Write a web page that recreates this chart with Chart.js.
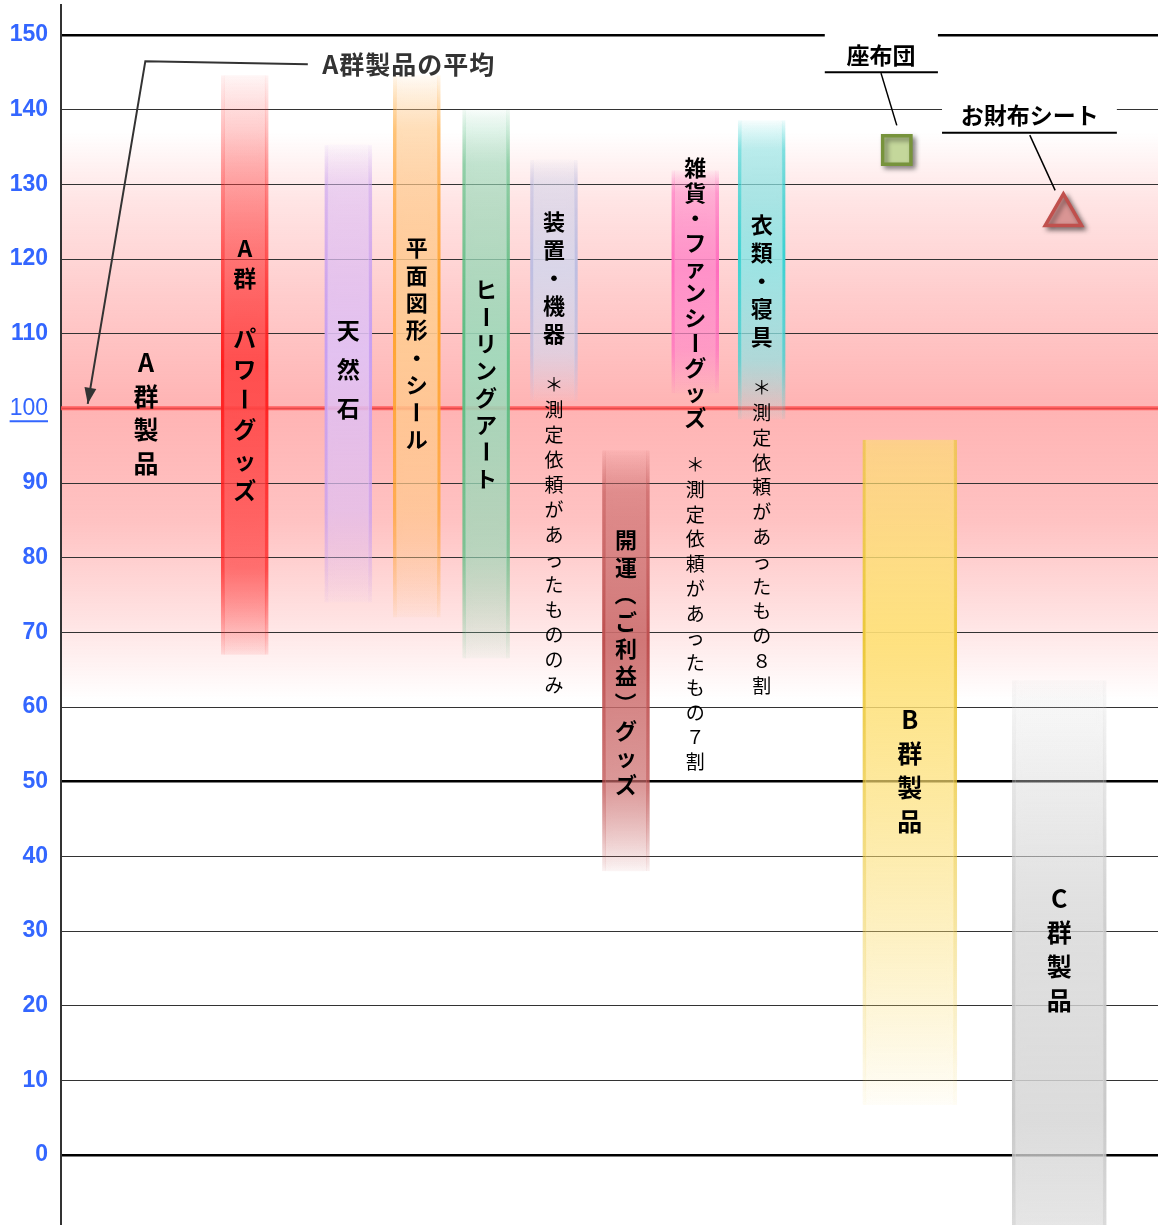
<!DOCTYPE html>
<html>
<head>
<meta charset="utf-8">
<script src="https://cdn.jsdelivr.net/npm/chart.js@4.4.1/dist/chart.umd.min.js"></script>
<style>
  html, body { margin: 0; padding: 0; background: #fff; }
  #wrap { width: 1158px; height: 1225px; }
</style>
</head>
<body>
<div id="wrap"><canvas id="chart" width="1158" height="1225"></canvas></div>
<script>
// y axis ticks
const yTicks = [0, 10, 20, 30, 40, 50, 60, 70, 80, 90, 100, 110, 120, 130, 140, 150];

// range bars (category slot on hidden x axis, low / high values)
const barNames = ['A群 パワーグッズ', '天然石', '平面図形・シール', 'ヒーリングアート', '装置・機器',
                  '開運（ご利益）グッズ', '雑貨・ファンシーグッズ', '衣類・寝具', 'B群製品', 'C群製品'];
const barSlot = [2.68, 4.19, 5.19, 6.2, 7.19, 8.24, 9.25, 10.22, 12.38, 14.56];
const barLow  = [67, 74, 72, 66.5, 101, 38, 102, 98.5, 6.7, -10];
const barHigh = [144.6, 135.3, 144.6, 140, 133.3, 94.4, 131.9, 138.6, 95.8, 63.6];

// single products
const markerNames = ['座布団', 'お財布シート'];
const markerSlot = [12.19, 14.62];
const markerValue = [134.6, 125.9];

// A group average and the shaded band around it
const avgValue = 100;
const bandRange = [61, 137];

// styles
const barFillRgb = ['255,70,70', '225,195,245', '255,205,150', '160,220,190', '215,215,235',
                    '205,110,110', '255,140,200', '150,230,230', '255,225,120', '215,215,215'];
const barEdgeRgb = ['255,30,30', '200,160,240', '255,165,50', '90,190,130', '190,190,225',
                    '190,80,80', '255,110,190', '60,210,210', '235,200,60', '200,200,200'];
const barWidth = [47, 47, 47, 47, 47, 47, 47, 47, 94, 94];
const genericStops = [[0, 0.06], [0.1, 0.5], [0.45, 0.88], [0.8, 0.6], [1, 0.06]];
const barStops = [
  [[0, 0.04], [0.15, 0.3], [0.5, 0.88], [0.85, 0.6], [1, 0.08]],
  genericStops, genericStops, genericStops, genericStops, genericStops, genericStops, genericStops,
  [[0, 0.55], [0.3, 0.88], [0.6, 0.5], [1, 0.04]],
  [[0, 0.08], [0.45, 0.7], [0.8, 0.8], [1, 0.5]]
];

const JP = '"Noto Sans CJK JP", "Noto Sans", sans-serif';

// vertical text labels: slot, first character value, step in px
const vLabels = [
  { text: 'A群製品', slot: 1.24, start: 106.1, step: 33.5, size: 25, bold: true },
  { text: 'A群 パワーグッズ', slot: 2.68, start: 121.5, step: 30.3, size: 23, bold: true },
  { text: '天然石', slot: 4.19, start: 110.5, step: 39, size: 23, bold: true },
  { text: '平面図形・シール', slot: 5.19, start: 121.5, step: 27.4, size: 22, bold: true },
  { text: 'ヒーリングアート', slot: 6.2, start: 115.85, step: 26.9, size: 22, bold: true },
  { text: '装置・機器', slot: 7.19, start: 124.96, step: 28, size: 22, bold: true },
  { text: '＊測定依頼があったもののみ', slot: 7.19, start: 103.13, step: 25, size: 19, bold: false },
  { text: '開運（ご利益）グッズ', slot: 8.24, start: 82.37, step: 27.2, size: 22, bold: true },
  { text: '雑貨・ファンシーグッズ', slot: 9.25, start: 132.19, step: 25, size: 22, bold: true },
  { text: '＊測定依頼があったもの７割', slot: 9.25, start: 92.41, step: 24.75, size: 19, bold: false },
  { text: '衣類・寝具', slot: 10.22, start: 124.55, step: 28, size: 22, bold: true },
  { text: '＊測定依頼があったもの８割', slot: 10.22, start: 102.72, step: 24.8, size: 19, bold: false },
  { text: 'B群製品', slot: 12.38, start: 58.26, step: 34, size: 25, bold: true },
  { text: 'C群製品', slot: 14.56, start: 34.42, step: 34, size: 25, bold: true }
];

function vGrad(chart, lo, hi, rgb, stops, boost) {
  const ys = chart.scales.y;
  if (!ys || !chart.chartArea) return 'rgba(' + rgb + ',0.5)';
  const top = ys.getPixelForValue(hi), bot = ys.getPixelForValue(lo);
  const g = chart.ctx.createLinearGradient(0, top, 0, bot);
  stops.forEach(([p, a]) => g.addColorStop(p, 'rgba(' + rgb + ',' + Math.min(1, a * boost) + ')'));
  return g;
}

function drawVertical(ctx, text, cx, y0, step, font) {
  ctx.font = font;
  ctx.textAlign = 'center';
  ctx.textBaseline = 'middle';
  [...text].forEach((ch, i) => {
    const y = y0 + i * step;
    if (ch === ' ' || ch === '　') return;
    if ('ー（）'.includes(ch)) {
      ctx.save();
      ctx.translate(cx, y);
      ctx.rotate(Math.PI / 2);
      ctx.fillText(ch, 0, 0);
      ctx.restore();
    } else {
      ctx.fillText(ch, cx, y);
    }
  });
}

const barDatasets = barNames.map((name, k) => ({
  type: 'bar',
  label: name,
  data: [{ x: barSlot[k], y: [barLow[k], barHigh[k]] }],
  barThickness: barWidth[k],
  grouped: false,
  backgroundColor: c => vGrad(c.chart, barLow[k], barHigh[k], barFillRgb[k], barStops[k], 1),
  borderColor: c => vGrad(c.chart, barLow[k], barHigh[k], barEdgeRgb[k], barStops[k], 1.2),
  borderWidth: { left: 3, right: 3, top: 0, bottom: 0 },
  borderSkipped: false,
  order: 2
}));

const markerDatasets = [
  {
    type: 'line', label: markerNames[0], showLine: false,
    data: [{ x: markerSlot[0], y: markerValue[0] }],
    pointStyle: 'rect', pointRadius: 20, pointBackgroundColor: '#c4d79b',
    pointBorderColor: '#77933c', pointBorderWidth: 3.5, order: 1
  },
  {
    type: 'line', label: markerNames[1], showLine: false,
    data: [{ x: markerSlot[1], y: markerValue[1] }],
    pointStyle: 'triangle', pointRadius: 21, pointBackgroundColor: '#d99594',
    pointBorderColor: '#c0504d', pointBorderWidth: 3.5, order: 1
  }
];

const decorPlugin = {
  id: 'decor',
  beforeDraw(chart) {
    const { ctx, chartArea: a, scales: { y } } = chart;
    const top = y.getPixelForValue(bandRange[1]), bot = y.getPixelForValue(bandRange[0]);
    const g = ctx.createLinearGradient(0, top, 0, bot);
    const f = v => (y.getPixelForValue(v) - top) / (bot - top);
    g.addColorStop(0, 'rgba(255,110,110,0)');
    g.addColorStop(f(128), 'rgba(255,110,110,0.18)');
    g.addColorStop(f(115), 'rgba(255,110,110,0.35)');
    g.addColorStop(f(avgValue), 'rgba(255,110,110,0.52)');
    g.addColorStop(f(85), 'rgba(255,110,110,0.42)');
    g.addColorStop(f(72), 'rgba(255,110,110,0.2)');
    g.addColorStop(1, 'rgba(255,110,110,0)');
    ctx.save();
    ctx.fillStyle = g;
    ctx.fillRect(a.left, top, a.right - a.left, bot - top);
    ctx.restore();
  },
  beforeDatasetsDraw(chart) {
    const { ctx, chartArea: a, scales: { y } } = chart;
    const py = y.getPixelForValue(avgValue);
    ctx.save();
    ctx.strokeStyle = 'rgba(255,80,80,0.85)';
    ctx.lineWidth = 4;
    ctx.beginPath();
    ctx.moveTo(a.left, py);
    ctx.lineTo(a.right, py);
    ctx.stroke();
    ctx.restore();
  },
  beforeDatasetDraw(chart, args) {
    const ds = chart.data.datasets[args.index];
    const ctx = chart.ctx;
    ctx.save();
    if (ds.type === 'line') {
      ctx.shadowColor = 'rgba(0,0,0,0.45)';
      ctx.shadowBlur = 5;
      ctx.shadowOffsetX = 3;
      ctx.shadowOffsetY = 3;
    } else {
      ctx.shadowColor = 'rgba(' + barEdgeRgb[args.index - markerDatasets.length] + ',0.35)';
      ctx.shadowBlur = 7;
    }
  },
  afterDatasetDraw(chart) {
    chart.ctx.restore();
  },
  afterDatasetsDraw(chart) {
    const { ctx, scales: { x, y } } = chart;
    const px = v => x.getPixelForValue(v), py = v => y.getPixelForValue(v);

    ctx.save();
    ctx.fillStyle = '#000';
    vLabels.forEach(l => {
      drawVertical(ctx, l.text, px(l.slot), py(l.start), l.step,
        (l.bold ? 'bold ' : '') + l.size + 'px ' + JP);
    });

    // average call-out with arrow
    ctx.strokeStyle = '#333';
    ctx.lineWidth = 2;
    const p0 = [px(3.6), py(146.1)], p1 = [px(1.23), py(146.5)], p2 = [px(0.39), py(100.6)];
    ctx.beginPath();
    ctx.moveTo(p0[0], p0[1]);
    ctx.lineTo(p1[0], p1[1]);
    ctx.lineTo(p2[0], p2[1]);
    ctx.stroke();
    const ang = Math.atan2(p2[1] - p1[1], p2[0] - p1[0]);
    ctx.fillStyle = '#333';
    ctx.beginPath();
    ctx.moveTo(p2[0], p2[1]);
    ctx.lineTo(p2[0] - 16 * Math.cos(ang) + 6 * Math.sin(ang), p2[1] - 16 * Math.sin(ang) - 6 * Math.cos(ang));
    ctx.lineTo(p2[0] - 16 * Math.cos(ang) - 6 * Math.sin(ang), p2[1] - 16 * Math.sin(ang) + 6 * Math.cos(ang));
    ctx.closePath();
    ctx.fill();
    ctx.font = 'bold 25px ' + JP;
    ctx.letterSpacing = '1px';
    ctx.textAlign = 'left';
    ctx.textBaseline = 'middle';
    ctx.fillText('A群製品の平均', px(3.81), py(146.0));
    ctx.letterSpacing = '0px';

    // boxed call-outs for the single products
    const callouts = [
      { name: markerNames[0], cx: 11.96, ty: 147.3, x0: 11.14, x1: 12.79, boxTop: 150.3, line: 145.0, lead: [11.96, 144.9, 12.19, 137.9] },
      { name: markerNames[1], cx: 14.13, ty: 139.3, x0: 12.85, x1: 15.4, boxTop: 142.0, line: 136.9, lead: [14.13, 136.6, 14.5, 129.2] }
    ];
    callouts.forEach(c => {
      ctx.fillStyle = '#fff';
      ctx.fillRect(px(c.x0), py(c.boxTop) - 2, px(c.x1) - px(c.x0), py(c.line) - py(c.boxTop) + 2);
      ctx.strokeStyle = '#000';
      ctx.lineWidth = 2;
      ctx.beginPath();
      ctx.moveTo(px(c.x0), py(c.line));
      ctx.lineTo(px(c.x1), py(c.line));
      ctx.stroke();
      ctx.lineWidth = 1.5;
      ctx.beginPath();
      ctx.moveTo(px(c.lead[0]), py(c.lead[1]));
      ctx.lineTo(px(c.lead[2]), py(c.lead[3]));
      ctx.stroke();
      ctx.fillStyle = '#000';
      ctx.font = 'bold 23px ' + JP;
      ctx.textAlign = 'center';
      ctx.fillText(c.name, px(c.cx), py(c.ty));
    });
    ctx.restore();
  },
  afterDraw(chart) {
    // underline under the 100 tick label
    const { ctx, scales: { y } } = chart;
    ctx.save();
    ctx.font = '23px "Liberation Sans", Arial, sans-serif';
    const w = ctx.measureText(String(avgValue)).width;
    const right = y.right - 13;
    const uy = y.getPixelForValue(avgValue) + 13;
    ctx.strokeStyle = '#3366ff';
    ctx.lineWidth = 2;
    ctx.beginPath();
    ctx.moveTo(right - w, uy);
    ctx.lineTo(right, uy);
    ctx.stroke();
    ctx.restore();
  }
};

new Chart(document.getElementById('chart').getContext('2d'), {
  type: 'bar',
  data: { datasets: [...markerDatasets, ...barDatasets] },
  options: {
    responsive: false,
    animation: false,
    layout: { autoPadding: false, padding: { top: 5, right: 0, bottom: 0, left: 0 } },
    plugins: { legend: { display: false }, tooltip: { enabled: false } },
    scales: {
      x: { type: 'linear', min: 0, max: 16, offset: false, display: false },
      y: {
        min: -9.375,
        max: 154.02,
        afterBuildTicks: s => { s.ticks = yTicks.map(v => ({ value: v })); },
        afterFit: s => { s.width = 61; s.paddingTop = 0; s.paddingBottom = 0; },
        border: { display: true, color: '#333', width: 2 },
        grid: {
          drawTicks: false,
          color: c => (c.tick && [0, 50, 150].includes(c.tick.value)) ? '#000' : '#333',
          lineWidth: c => (c.tick && [0, 50, 150].includes(c.tick.value)) ? 2.5 : 1
        },
        ticks: {
          padding: 13,
          color: '#3366ff',
          font: c => ({
            family: '"Liberation Sans", Arial, sans-serif',
            size: 23,
            weight: (c.tick && c.tick.value === avgValue) ? 'normal' : 'bold'
          })
        }
      }
    }
  },
  plugins: [decorPlugin]
});
</script>
</body>
</html>
